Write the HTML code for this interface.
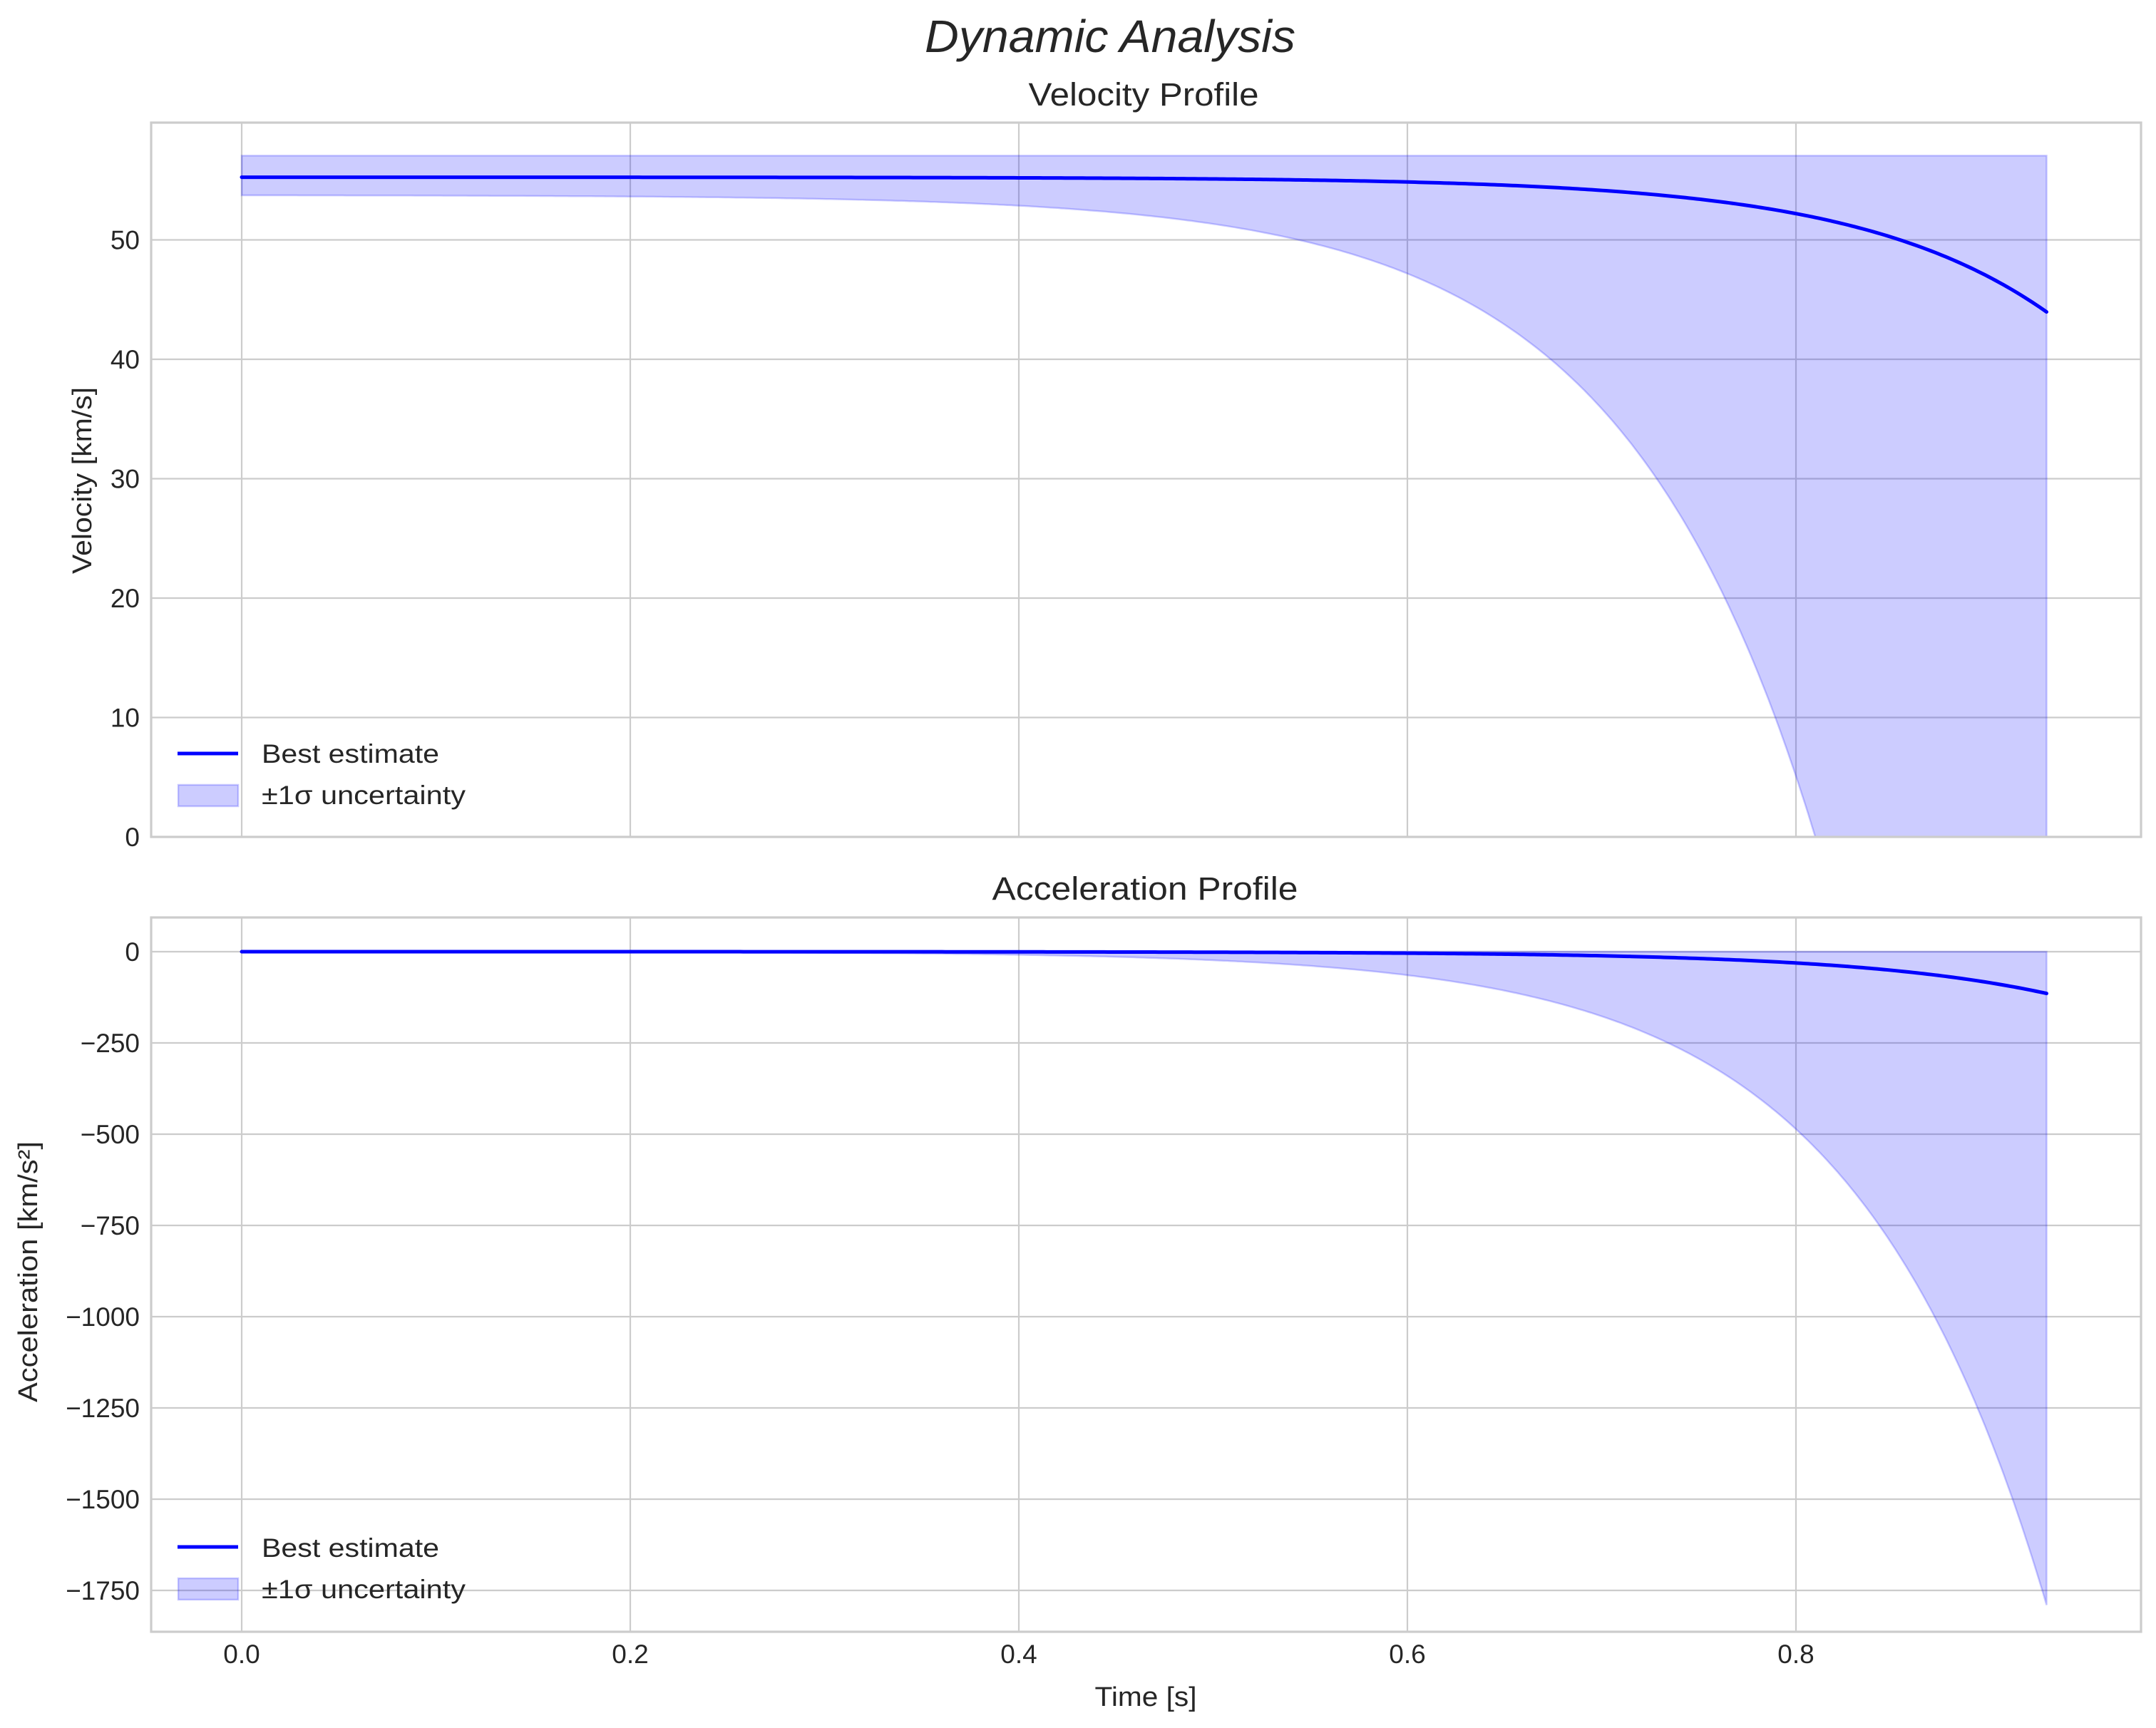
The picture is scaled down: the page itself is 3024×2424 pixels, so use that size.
<!DOCTYPE html>
<html><head><meta charset="utf-8">
<style>
html,body{margin:0;padding:0;background:#fff;width:3024px;height:2424px;overflow:hidden;}
svg{display:block;}
text{font-family:"Liberation Sans",sans-serif;fill:#262626;}
</style></head>
<body>
<svg id="s" width="3024" height="2424" viewBox="0 0 3024 2424" xmlns="http://www.w3.org/2000/svg">
<defs>
<clipPath id="c1"><rect x="212" y="172" width="2791" height="1002"/></clipPath>
<clipPath id="c2"><rect x="212" y="1287" width="2791" height="1002"/></clipPath>
</defs>
<rect width="3024" height="2424" fill="#fff"/>
<g id="grid" stroke="#cccccc" stroke-width="2.2" fill="none"></g>
<g id="fills"></g>
<g id="spines" fill="none" stroke="#cccccc" stroke-width="3.2">
<rect x="212" y="172" width="2791" height="1002"/>
<rect x="212" y="1287" width="2791" height="1002"/>
</g>
<g id="labels"></g>
<text x="1557" y="73" font-size="64" font-style="italic" text-anchor="middle" textLength="520" lengthAdjust="spacingAndGlyphs">Dynamic Analysis</text>
<text x="1604" y="148" font-size="45" text-anchor="middle" textLength="323" lengthAdjust="spacingAndGlyphs">Velocity Profile</text>
<text x="1606" y="1262" font-size="45" text-anchor="middle" textLength="429" lengthAdjust="spacingAndGlyphs">Acceleration Profile</text>
<text x="1607" y="2393" font-size="38" text-anchor="middle" textLength="143" lengthAdjust="spacingAndGlyphs">Time [s]</text>
<text transform="translate(128,674) rotate(-90)" font-size="38" text-anchor="middle" textLength="262" lengthAdjust="spacingAndGlyphs">Velocity [km/s]</text>
<text transform="translate(52,1784) rotate(-90)" font-size="38" text-anchor="middle" textLength="366" lengthAdjust="spacingAndGlyphs">Acceleration [km/s²]</text>
<g>
<line x1="249" y1="1057" x2="334" y2="1057" stroke="#0000ff" stroke-width="5"/>
<rect x="250" y="1101" width="84" height="30" fill="rgba(0,0,255,0.2)" stroke="rgba(0,0,255,0.2)" stroke-width="2.5"/>
<text x="367" y="1070" font-size="37" textLength="249" lengthAdjust="spacingAndGlyphs">Best estimate</text>
<text x="367" y="1128" font-size="37" textLength="286" lengthAdjust="spacingAndGlyphs">±1σ uncertainty</text>
<line x1="249" y1="2170" x2="334" y2="2170" stroke="#0000ff" stroke-width="5"/>
<rect x="250" y="2214" width="84" height="30" fill="rgba(0,0,255,0.2)" stroke="rgba(0,0,255,0.2)" stroke-width="2.5"/>
<text x="367" y="2184" font-size="37" textLength="249" lengthAdjust="spacingAndGlyphs">Best estimate</text>
<text x="367" y="2242" font-size="37" textLength="286" lengthAdjust="spacingAndGlyphs">±1σ uncertainty</text>
</g>
</svg>
<script>
(function(){
var NS="http://www.w3.org/2000/svg";
var s=document.getElementById('s');
function el(tag,attrs,parent,txt){var e=document.createElementNS(NS,tag);for(var k in attrs)e.setAttribute(k,attrs[k]);if(txt!==undefined)e.textContent=txt;(parent||s).appendChild(e);return e;}
var X=function(t){return 339+t*2725;};
var Y1=function(v){return 1174-v*16.75;};
var Y2=function(a){return 1335+(-a)*0.512;};
var grid=document.getElementById('grid');
var labels=document.getElementById('labels');
[0,0.2,0.4,0.6,0.8].forEach(function(t){
  el('line',{x1:X(t),y1:172,x2:X(t),y2:1174},grid);
  el('line',{x1:X(t),y1:1287,x2:X(t),y2:2289},grid);
  el('text',{x:X(t),y:2333,'font-size':37,'text-anchor':'middle'},labels,t.toFixed(1));
});
[0,10,20,30,40,50].forEach(function(v){
  el('line',{x1:212,y1:Y1(v),x2:3003,y2:Y1(v)},grid);
  el('text',{x:196,y:Y1(v)+13,'font-size':37,'text-anchor':'end'},labels,String(v));
});
[0,-250,-500,-750,-1000,-1250,-1500,-1750].forEach(function(a){
  el('line',{x1:212,y1:Y2(a),x2:3003,y2:Y2(a)},grid);
  el('text',{x:196,y:Y2(a)+13,'font-size':37,'text-anchor':'end'},labels,(a<0?'\u2212':'')+Math.abs(a));
});
var A=0.000915,k=10.14,T=0.929,N=500;
function v(t){return 55.25-A*Math.exp(k*t);}
function a(t){return -A*k*Math.exp(k*t);}
function vlow(t){return v(t)-(1.5+0.0153*Math.exp(10*t));}
function alow(t){return a(t)-0.141*Math.exp(10.1*t);}
var fills=document.getElementById('fills');
function build(Yf,upper,low,lineF,clip){
  var d='M'+X(0)+','+Yf(upper)+' L'+X(T)+','+Yf(upper);
  for(var i=N;i>=0;i--){var t=T*i/N;d+=' L'+X(t).toFixed(1)+','+Yf(low(t)).toFixed(1);}
  d+='Z';
  var g=el('g',{'clip-path':'url(#'+clip+')'},fills);
  el('path',{d:d,fill:'rgba(0,0,255,0.2)',stroke:'rgba(0,0,255,0.2)','stroke-width':2.5},g);
  var l='';
  for(var j=0;j<=N;j++){var tt=T*j/N;l+=(j?' L':'M')+X(tt).toFixed(1)+','+Yf(lineF(tt)).toFixed(2);}
  el('path',{d:l,fill:'none',stroke:'#0000ff','stroke-width':5,'stroke-linecap':'round'},g);
}
build(Y1,57.05,vlow,v,'c1');
build(Y2,0,alow,a,'c2');
})();
</script>
</body></html>
